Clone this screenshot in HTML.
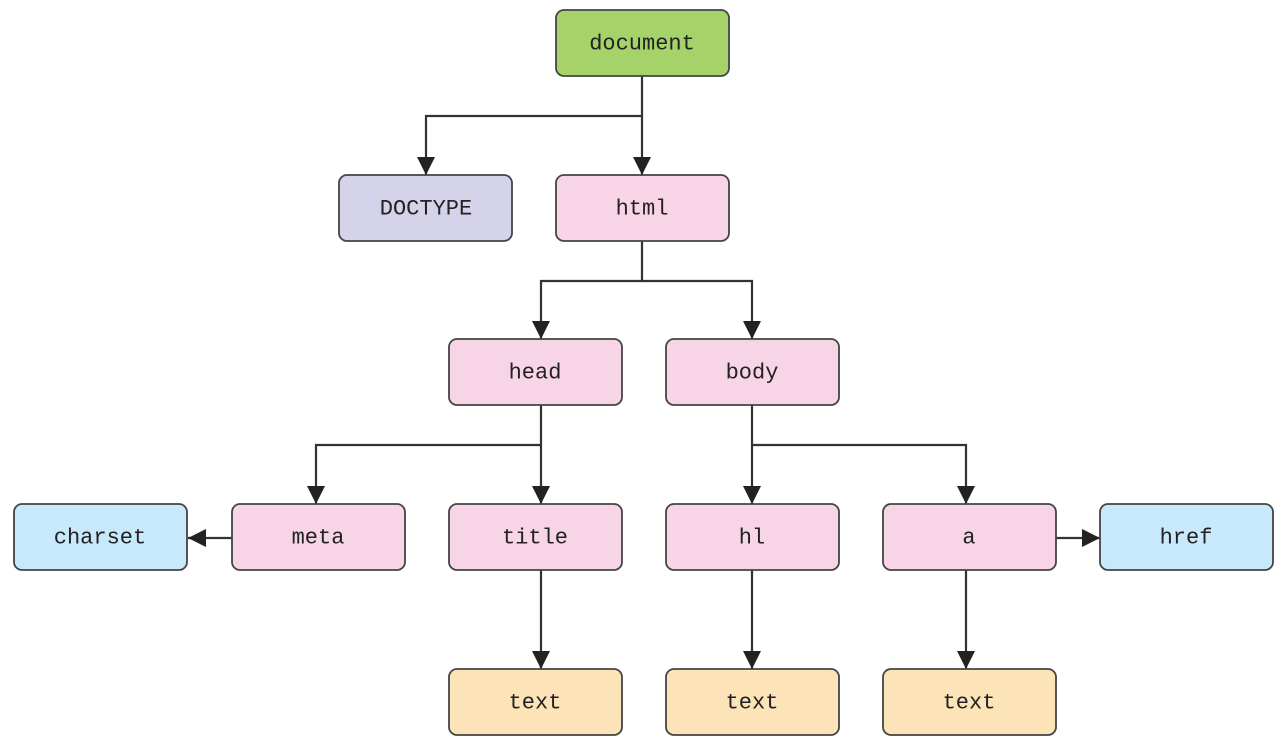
<!DOCTYPE html>
<html><head><style>body{margin:0;background:#fff}</style></head><body>
<svg width="1280" height="741" xmlns="http://www.w3.org/2000/svg" font-family="Liberation Mono, DejaVu Sans Mono, monospace" font-size="22">
<defs><marker id="a" markerWidth="10" markerHeight="10" refX="9" refY="5" orient="auto" markerUnits="userSpaceOnUse"><path d="M0,0 L10,5 L0,10 z" fill="#222"/></marker>
<marker id="b" viewBox="0 0 10 10" markerWidth="18" markerHeight="18" refX="10" refY="5" orient="auto" markerUnits="userSpaceOnUse"><path d="M0,0 L10,5 L0,10 z" fill="#222"/></marker></defs>
<g stroke="#333" stroke-width="2.2" fill="none">
<path d="M642,76 V116 H426 V175" marker-end="url(#b)"/>
<path d="M642,116 V175" marker-end="url(#b)"/>
<path d="M642,241 V281 H541 V339" marker-end="url(#b)"/>
<path d="M642,281 H752 V339" marker-end="url(#b)"/>
<path d="M541,405 V445 H316 V504" marker-end="url(#b)"/>
<path d="M541,445 V504" marker-end="url(#b)"/>
<path d="M752,405 V504" marker-end="url(#b)"/>
<path d="M752,445 H966 V504" marker-end="url(#b)"/>
<path d="M541,570 V669" marker-end="url(#b)"/>
<path d="M752,570 V669" marker-end="url(#b)"/>
<path d="M966,570 V669" marker-end="url(#b)"/>
<path d="M232,538 H188" marker-end="url(#b)"/>
<path d="M1056,538 H1100" marker-end="url(#b)"/>
</g>
<g stroke="#444" stroke-width="1.8">
<rect x="556" y="10" width="173" height="66" rx="8" fill="#a5d36a"/>
<rect x="339" y="175" width="173" height="66" rx="8" fill="#d5d3ea"/>
<rect x="556" y="175" width="173" height="66" rx="8" fill="#f8d5e6"/>
<rect x="449" y="339" width="173" height="66" rx="8" fill="#f8d5e6"/>
<rect x="666" y="339" width="173" height="66" rx="8" fill="#f8d5e6"/>
<rect x="14" y="504" width="173" height="66" rx="8" fill="#c8e9fb"/>
<rect x="232" y="504" width="173" height="66" rx="8" fill="#f8d5e6"/>
<rect x="449" y="504" width="173" height="66" rx="8" fill="#f8d5e6"/>
<rect x="666" y="504" width="173" height="66" rx="8" fill="#f8d5e6"/>
<rect x="883" y="504" width="173" height="66" rx="8" fill="#f8d5e6"/>
<rect x="1100" y="504" width="173" height="66" rx="8" fill="#c8e9fb"/>
<rect x="449" y="669" width="173" height="66" rx="8" fill="#fde3b8"/>
<rect x="666" y="669" width="173" height="66" rx="8" fill="#fde3b8"/>
<rect x="883" y="669" width="173" height="66" rx="8" fill="#fde3b8"/>
</g>
<g fill="#222" text-anchor="middle" dominant-baseline="central">
<text x="642" y="44">document</text>
<text x="426" y="209">DOCTYPE</text>
<text x="642" y="209">html</text>
<text x="535" y="373">head</text>
<text x="752" y="373">body</text>
<text x="100" y="538">charset</text>
<text x="318" y="538">meta</text>
<text x="535" y="538">title</text>
<text x="752" y="538">hl</text>
<text x="969" y="538">a</text>
<text x="1186" y="538">href</text>
<text x="535" y="703">text</text>
<text x="752" y="703">text</text>
<text x="969" y="703">text</text>
</g>
</svg>
</body></html>
